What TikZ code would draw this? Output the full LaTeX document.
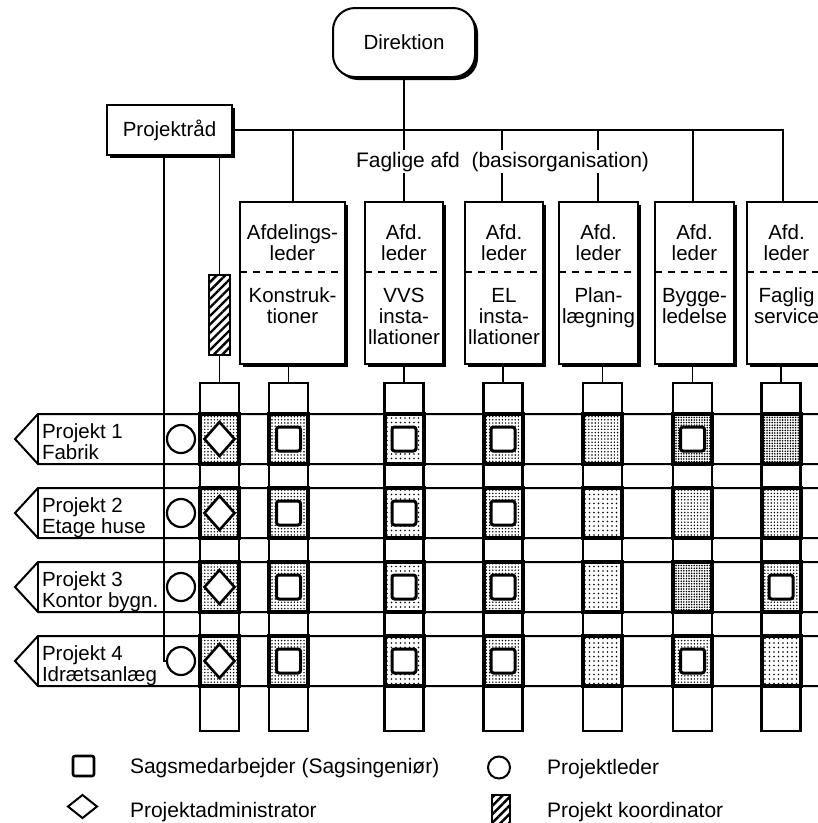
\documentclass[tikz,border=0pt]{standalone}
\usepackage{fontspec}
\setmainfont{Liberation Sans}
\usetikzlibrary{shadows,patterns.meta,shapes.geometric}

\tikzset{
  lbl/.style={inner sep=0pt, outer sep=0pt, font=\fontsize{20.5}{21}\selectfont, align=center},
  lbll/.style={lbl, align=left},
  legtxt/.style={lbl, font=\fontsize{21}{21}\selectfont},
  wire/.style={line width=1.8pt},
  rowline/.style={line width=2pt, line join=miter},
  divider/.style={line width=1.6pt, dash pattern=on 7pt off 6pt},
  shadowbox/.style={draw, line width=2pt, fill=white, inner sep=0pt, outer sep=0pt,
    drop shadow={shadow xshift=3pt, shadow yshift=-3pt, opacity=1, fill=black}},
  deptbox/.style={shadowbox, minimum width=79pt, minimum height=162pt},
  colbox/.style={draw, line width=2.8pt, inner sep=0pt, outer sep=0pt,
    minimum width=39pt, minimum height=348pt},
  cellbox/.style={draw, line width=4pt, inner sep=0pt, outer sep=0pt,
    minimum width=39pt, minimum height=50pt},
  stipL/.style={cellbox, pattern={Dots[distance=4.5pt, radius=0.8pt]}},
  stipM/.style={cellbox, pattern={Dots[distance=3.2pt, radius=0.8pt]}},
  stipH/.style={cellbox, pattern={Dots[distance=2.6pt, radius=0.9pt]}},
  sagsmark/.style={draw, line width=3pt, fill=white, rounded corners=2.5pt,
    inner sep=0pt, outer sep=0pt, minimum width=24pt, minimum height=24pt},
  admmark/.style={draw, diamond, line width=2.6pt, fill=white, inner sep=0pt,
    outer sep=0pt, minimum width=30pt, minimum height=34pt},
  ledmark/.style={draw, circle, line width=2.2pt, fill=white, inner sep=0pt,
    outer sep=0pt, minimum size=28pt},
  hatchbox/.style={draw, line width=2.4pt, inner sep=0pt, outer sep=0pt,
    pattern={Lines[angle=45, distance=6pt, line width=2.4pt]}},
}

\begin{document}
\begin{tikzpicture}[x=1pt, y=-1pt]
\clip (0,0) rectangle (818,823);
\fill[white] (0,0) rectangle (818,823);

% ---------- management level ----------
\node[shadowbox, rounded corners=22pt, minimum width=142pt, minimum height=69pt, lbl]
  (dir) at (404,42.5) {Direktion};
\node[shadowbox, minimum width=125pt, minimum height=50pt, lbl]
  (pr) at (169.5,130) {Projektråd};

% points where the department connectors leave the bus
\coordinate (bK) at (293,130);
\coordinate (bE) at (502,130);
\coordinate (bP) at (598,130);
\coordinate (bB) at (693,130);
\coordinate (bF) at (783,130);

% ---------- departments ----------
\node[deptbox, minimum width=105pt] (dK) at (292.5,283) {};
\node[deptbox, minimum width=78pt] (dV) at (404,283) {};
\node[deptbox, minimum width=78pt] (dE) at (504,283) {};
\node[deptbox] (dP) at (598.5,283) {};
\node[deptbox] (dB) at (694.5,283) {};
\node[deptbox] (dF) at (786.5,283) {};

\foreach \d in {dK,dV,dE,dP,dB,dF}
  \draw[divider] ([yshift=11pt]\d.west) -- ([yshift=11pt]\d.east);

\node[lbl, anchor=north] (hK) at (292.5,225) {Afdelings-\\leder};
\node[lbl, anchor=north] (hV) at (404,225) {Afd.\\leder};
\node[lbl, anchor=north] (hE) at (504,225) {Afd.\\leder};
\node[lbl, anchor=north] (hP) at (598.5,225) {Afd.\\leder};
\node[lbl, anchor=north] (hB) at (694.5,225) {Afd.\\leder};
\node[lbl, anchor=north] (hF) at (786.5,225) {Afd.\\leder};

\node[lbl, anchor=north] (sK) at (292.5,288) {Konstruk-\\tioner};
\node[lbl, anchor=north] (sV) at (404,288) {VVS\\insta-\\llationer};
\node[lbl, anchor=north] (sE) at (504,288) {EL\\insta-\\llationer};
\node[lbl, anchor=north] (sP) at (598.5,288) {Plan-\\lægning};
\node[lbl, anchor=north] (sB) at (694.5,288) {Bygge-\\ledelse};
\node[lbl, anchor=north] (sF) at (786.5,288) {Faglig\\service};

% ---------- line organisation ----------
\draw[wire] (pr.east) -- (bF) -- (bF |- dF.north);
\draw[wire] (dir.south) -- (dir.south |- dV.north);
\draw[wire] (bK) -- (bK |- dK.north);
\draw[wire] (bE) -- (bE |- dE.north);
\draw[wire] (bP) -- (bP |- dP.north);
\draw[wire] (bB) -- (bB |- dB.north);

\node[lbl, font=\fontsize{21}{21}\selectfont, fill=white, inner ysep=1.5pt, anchor=base]
  (fag) at (502.5,167) {Faglige afd\ \ (basisorganisation)};

% ---------- project rows ----------
\foreach \i/\t/\ta/\tb in {1/414/{Projekt 1}/{Fabrik},
                           2/488/{Projekt 2}/{Etage huse},
                           3/562/{Projekt 3}/{Kontor bygn.},
                           4/636/{Projekt 4}/{Idrætsanlæg}} {
  \draw[rowline] (830,\t) -- (38,\t) -- (15,\t+25) -- (38,\t+50) -- (830,\t+50);
  \draw[rowline] (38,\t) -- (38,\t+50);
  \node[lbll, anchor=north west] (lab\i) at (42,\t+9.5) {\ta\\\tb};
}

% ---------- columns ----------
\foreach \n/\x in {C/219.5, K/288.5, V/404, E/503, P/602.5, B/692.5, F/781}
  \node[colbox] (col\n) at (\x,557) {};

\draw[wire] (colK.north |- dK.south) -- (colK.north);
\draw[wire] (colV.north |- dV.south) -- (colV.north);
\draw[wire] (colE.north |- dE.south) -- (colE.north);
\draw[wire] (colP.north |- dP.south) -- (colP.north);
\draw[wire] (colB.north |- dB.south) -- (colB.north);
\draw[wire] (colF.north |- dF.south) -- (colF.north);

% project coordinator
\node[hatchbox, minimum width=21pt, minimum height=80pt] (koord) at (219.5,315) {};
\draw[wire] (koord.north |- pr.south) -- (koord.north);
\draw[wire] (koord.south) -- (colC.north);

% ---------- matrix cells ----------
\foreach \i/\y in {1/439, 2/513, 3/587, 4/661} {
  \node[ledmark] (o\i) at (181,\y) {};
  \node[stipM] (cellC\i) at (219.5,\y) {};
  \node[admmark] (adm\i) at (219.5,\y) {};
}

\foreach \n/\x/\i/\y/\st in {
  K/288.5/1/439/stipM, V/404/1/439/stipL, E/503/1/439/stipM, P/602.5/1/439/stipM, B/692.5/1/439/stipH, F/781/1/439/stipH,
  K/288.5/2/513/stipM, V/404/2/513/stipL, E/503/2/513/stipM, P/602.5/2/513/stipL, B/692.5/2/513/stipM, F/781/2/513/stipM,
  K/288.5/3/587/stipM, V/404/3/587/stipL, E/503/3/587/stipM, P/602.5/3/587/stipL, B/692.5/3/587/stipH, F/781/3/587/stipM,
  K/288.5/4/661/stipM, V/404/4/661/stipL, E/503/4/661/stipM, P/602.5/4/661/stipL, B/692.5/4/661/stipM, F/781/4/661/stipL}
  \node[\st] (cell\n\i) at (\x,\y) {};

\foreach \n/\x/\i/\y in {
  K/288.5/1/439, V/404/1/439, E/503/1/439, B/692.5/1/439,
  K/288.5/2/513, V/404/2/513, E/503/2/513,
  K/288.5/3/587, V/404/3/587, E/503/3/587, F/781/3/587,
  K/288.5/4/661, V/404/4/661, E/503/4/661, B/692.5/4/661}
  \node[sagsmark] (sq\n\i) at (\x,\y) {};

% project council line down to the project leader of project 4
\coordinate (pl) at (164,0);
\draw[wire] (pl |- pr.south) -- (pl |- o4) -- (o4.west);

% ---------- legend ----------
\node[sagsmark, line width=2.6pt, minimum width=21pt, minimum height=20pt, rounded corners=2pt]
  (legS) at (83.5,766) {};
\node[legtxt, anchor=base west] (legSt) at (130,773) {Sagsmedarbejder (Sagsingeniør)};
\node[admmark, line width=2pt, minimum width=29pt, minimum height=23pt]
  (legA) at (82.5,806.5) {};
\node[legtxt, anchor=base west] (legAt) at (130,817) {Projektadministrator};
\node[ledmark, line width=2pt, minimum size=22pt] (legL) at (499,767.5) {};
\node[legtxt, anchor=base west] (legLt) at (547,774) {Projektleder};
\node[hatchbox, line width=2pt, minimum width=18pt, minimum height=34pt] (legK) at (501,812) {};
\node[legtxt, anchor=base west] (legKt) at (547,817) {Projekt koordinator};
\end{tikzpicture}
\end{document}
